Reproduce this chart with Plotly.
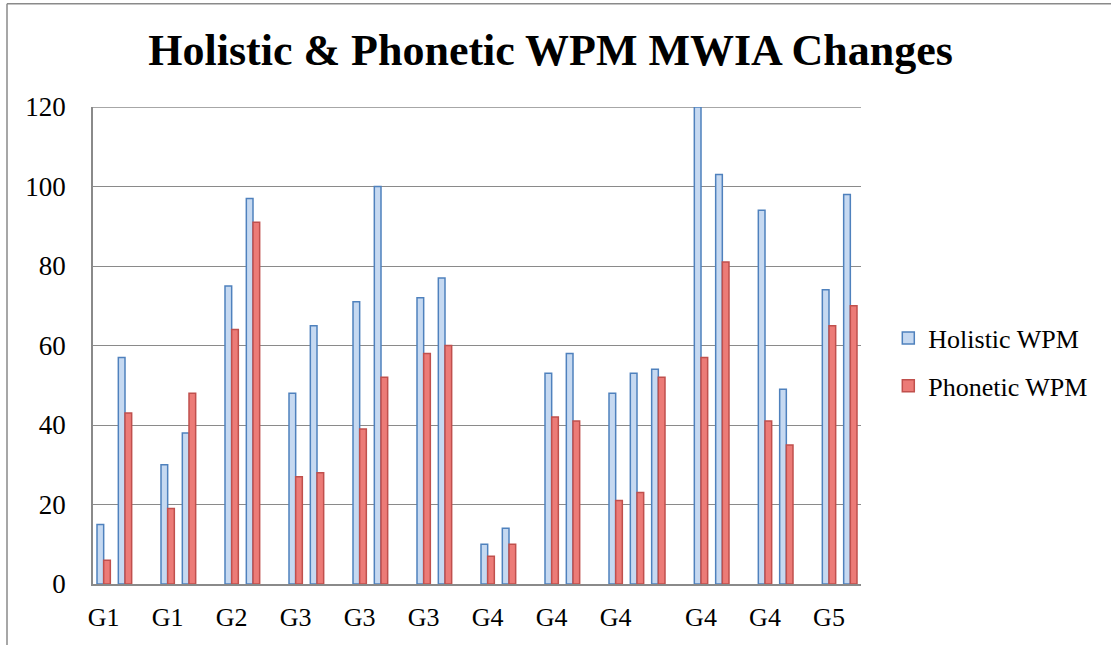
import plotly.graph_objects as go

# ---- data ----
tick_labels = ["G1", "", "", "G1", "", "", "G2", "", "", "G3", "", "",
               "G3", "", "", "G3", "", "", "G4", "", "", "G4", "", "",
               "G4", "", "", "", "G4", "", "", "G4", "", "", "G5", ""]
holistic_wpm = [15, 57, None, 30, 38, None, 75, 97, None, 48, 65, None,
                71, 100, None, 72, 77, None, 10, 14, None, 53, 58, None,
                48, 53, 54, None, 120, 103, None, 94, 49, None, 74, 98]
phonetic_wpm = [6, 43, None, 19, 48, None, 64, 91, None, 27, 28, None,
                39, 52, None, 58, 60, None, 7, 10, None, 42, 41, None,
                21, 23, 52, None, 57, 81, None, 41, 35, None, 65, 70]
positions = list(range(len(tick_labels)))

W, H = 1111, 645
Y_MAX = 120
L, R, T, B = 92.7, 860.7, 107.2, 583.8  # plot area in px


def px_x(px):
    return (px - L) / (R - L)


def px_y(py):
    return (B - py) / (B - T)


SERIF = "Liberation Serif, Times New Roman, serif"
GRID = "#8a8a8a"

fig = go.Figure()
fig.add_trace(go.Bar(
    x=positions, y=holistic_wpm, name="Holistic WPM",
    marker=dict(color="#c6d9f1", line=dict(color="#4f81bd", width=1.5)),
    legendgroup="a",
))
fig.add_trace(go.Bar(
    x=positions, y=phonetic_wpm, name="Phonetic WPM",
    marker=dict(color="#ec7b77", line=dict(color="#c0504d", width=1.5)),
    legendgroup="b",
))

fig.update_layout(
    width=W, height=H,
    margin=dict(l=L, r=W - R, t=T, b=H - B, autoexpand=False),
    paper_bgcolor="white", plot_bgcolor="white",
    barmode="group", bargap=0.375, bargroupgap=0,
    font=dict(family=SERIF, size=25, color="black"),
    title=dict(text="<b>Holistic &amp; Phonetic WPM MWIA Changes</b>",
               font=dict(family=SERIF, size=44, color="black"),
               x=550.5 / W, xanchor="center", xref="container",
               y=1 - 50 / H, yanchor="middle", yref="container"),
    legend=dict(x=px_x(888), xanchor="left", y=px_y(362), yanchor="middle",
                font=dict(family=SERIF, size=26, color="black"),
                traceorder="grouped", tracegroupgap=11,
                bgcolor="rgba(0,0,0,0)"),
    showlegend=True,
)

fig.update_xaxes(
    range=[-0.5, len(tick_labels) - 0.5],
    tickmode="array", tickvals=positions, ticktext=tick_labels,
    showgrid=False, zeroline=False,
    showline=True, linecolor=GRID, linewidth=1.5,
    ticks="", ticklabelstandoff=9, tickangle=0,
    tickfont=dict(family=SERIF, size=26, color="black"),
)
fig.update_yaxes(
    range=[0, Y_MAX], tickmode="linear", tick0=0, dtick=20,
    showgrid=True, gridcolor=GRID, gridwidth=1.3,
    zeroline=False, showline=True, linecolor=GRID, linewidth=1.5,
    ticks="", ticklabelstandoff=20,
    tickfont=dict(family=SERIF, size=27, color="black"),
)

# top gridline (plotly omits the gridline at the very edge of the range)
fig.add_shape(type="line", xref="paper", yref="y", x0=0, x1=1,
              y0=Y_MAX, y1=Y_MAX, line=dict(color=GRID, width=1.3),
              layer="below")

# outer chart border (extends past the right and bottom edges of the picture)
fig.add_shape(type="line", xref="paper", yref="paper",
              x0=px_x(6.7), x1=px_x(6.7), y0=px_y(4), y1=px_y(700),
              line=dict(color=GRID, width=1.5))
fig.add_shape(type="line", xref="paper", yref="paper",
              x0=px_x(6.7), x1=px_x(1200), y0=px_y(4), y1=px_y(4),
              line=dict(color=GRID, width=1.5))

fig.write_html("out.html", config={"displayModeBar": False},
               post_script="document.body.style.margin='0px';")
